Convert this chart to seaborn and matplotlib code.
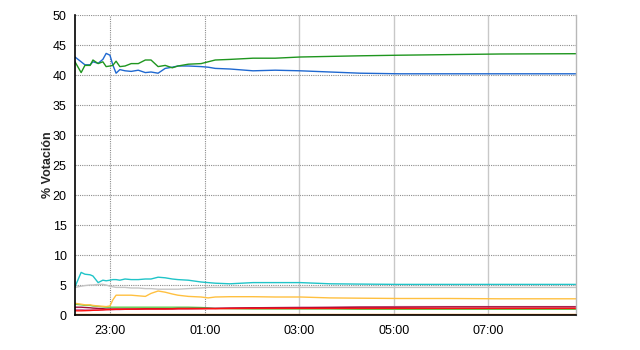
import matplotlib
matplotlib.use("Agg")
import matplotlib.pyplot as plt
import seaborn as sns
import pandas as pd

# time in decimal hours (24+ = after midnight)
horas = [22.25, 22.38, 22.46, 22.57, 22.63, 22.74, 22.84, 22.91, 22.99, 23.05,
         23.12, 23.20, 23.31, 23.44, 23.59, 23.74, 23.86, 24.01, 24.16, 24.31,
         24.43, 24.65, 24.92, 25.07, 25.22, 25.53, 26.02, 26.49, 27.02, 27.65,
         28.29, 29.13, 30.19, 31.25, 32.86]

azul = [43.0, 42.2, 41.7, 41.7, 42.2, 41.95, 42.6, 43.6, 43.3, 41.7,
        40.3, 40.9, 40.7, 40.6, 40.8, 40.4, 40.5, 40.3, 41.1, 41.3,
        41.5, 41.5, 41.4, 41.3, 41.1, 41.0, 40.7, 40.8, 40.7, 40.5,
        40.3, 40.2, 40.2, 40.2, 40.2]
verde = [42.2, 40.4, 41.6, 41.6, 42.5, 41.9, 42.2, 41.4, 41.5, 41.6,
         42.3, 41.4, 41.5, 41.9, 41.9, 42.5, 42.5, 41.4, 41.6, 41.2,
         41.5, 41.8, 41.9, 42.2, 42.5, 42.6, 42.8, 42.8, 43.0, 43.1,
         43.2, 43.3, 43.4, 43.5, 43.55]
cian = [4.7, 7.1, 6.8, 6.7, 6.5, 5.4, 5.8, 5.7, 5.8, 5.9,
        5.9, 5.8, 6.0, 5.9, 5.9, 6.0, 6.0, 6.3, 6.2, 6.0,
        5.9, 5.8, 5.5, 5.4, 5.3, 5.2, 5.4, 5.4, 5.4, 5.2,
        5.15, 5.1, 5.1, 5.1, 5.1]
gris = [4.6, 4.8, 4.9, 5.0, 5.0, 5.1, 5.1, 5.0, 4.8, 4.7,
        4.6, 4.6, 4.6, 4.5, 4.5, 4.4, 4.4, 4.3, 4.3, 4.3,
        4.3, 4.4, 4.5, 4.6, 4.6, 4.6, 4.6, 4.6, 4.6, 4.6,
        4.6, 4.6, 4.6, 4.6, 4.6]
naranja = [1.95, 1.8, 1.7, 1.7, 1.6, 1.5, 1.45, 1.4, 1.5, 2.5,
           3.3, 3.3, 3.3, 3.3, 3.2, 3.1, 3.6, 4.0, 3.8, 3.5,
           3.3, 3.1, 3.0, 2.85, 3.0, 3.05, 3.05, 3.0, 3.0, 2.85,
           2.8, 2.75, 2.75, 2.7, 2.7]
verde_claro = [1.8, 1.7, 1.6, 1.6, 1.5, 1.45, 1.35, 1.3, 1.3, 1.3,
               1.3, 1.3, 1.3, 1.3, 1.3, 1.3, 1.3, 1.3, 1.3, 1.3,
               1.3, 1.3, 1.25, 1.2, 1.1, 1.05, 1.0, 1.0, 1.0, 1.0,
               0.95, 0.95, 0.95, 0.95, 0.95]
granate = [1.3, 1.3, 1.25, 1.2, 1.15, 1.1, 1.05, 1.0, 1.0, 1.0,
           1.0, 1.0, 1.0, 1.0, 1.0, 1.05, 1.05, 1.05, 1.05, 1.05,
           1.1, 1.1, 1.1, 1.1, 1.1, 1.15, 1.2, 1.2, 1.2, 1.25,
           1.3, 1.3, 1.35, 1.35, 1.35]
rosa = [0.9, 0.9, 0.85, 0.85, 0.85, 0.85, 0.85, 0.9, 0.9, 0.9,
        0.9, 0.9, 0.95, 0.95, 0.95, 1.0, 1.0, 1.0, 1.0, 1.0,
        1.0, 1.0, 1.05, 1.1, 1.1, 1.15, 1.2, 1.25, 1.3, 1.3,
        1.35, 1.4, 1.4, 1.4, 1.4]
rojo = [0.7, 0.7, 0.72, 0.75, 0.78, 0.8, 0.85, 0.88, 0.9, 0.92,
        0.95, 0.95, 0.95, 0.97, 1.0, 1.0, 1.0, 1.0, 1.0, 1.02,
        1.05, 1.05, 1.05, 1.05, 1.05, 1.08, 1.1, 1.1, 1.1, 1.1,
        1.1, 1.1, 1.1, 1.1, 1.1]
naranja_osc = [0.1] * len(horas)

series = {
    "naranja_osc": naranja_osc,
    "gris": gris,
    "verde_claro": verde_claro,
    "rosa": rosa,
    "granate": granate,
    "rojo": rojo,
    "naranja": naranja,
    "cian": cian,
    "azul": azul,
    "verde": verde,
}
colores = {
    "naranja_osc": "#ff9020",
    "gris": "#c4c4c4",
    "verde_claro": "#60cc50",
    "rosa": "#d070a0",
    "granate": "#a0103a",
    "rojo": "#ff1010",
    "naranja": "#ffc040",
    "cian": "#20c4c8",
    "azul": "#1f68d0",
    "verde": "#1f961f",
}

rows = []
for name, vals in series.items():
    for t, v in zip(horas, vals):
        rows.append({"hora": t, "valor": v, "serie": name})
df = pd.DataFrame(rows)

x_ticks = [23, 25, 27, 29, 31]
x_labels = ["23:00", "01:00", "03:00", "05:00", "07:00"]
y_ticks = list(range(0, 55, 5))

sns.set_style("white")
plt.rcParams["font.family"] = ["Liberation Sans", "DejaVu Sans"]

fig = plt.figure(figsize=(6.4, 3.5), dpi=100)
ax = fig.add_axes([75 / 640, 35 / 350, 501 / 640, 300 / 350])

xmin, xmax = 22.25, 32.86
# grid
for y in y_ticks[1:]:
    ax.axhline(y, color="#8c8c8c", lw=0.8, ls=(0, (1, 1)), zorder=0)
for xt in x_ticks:
    if xt < 26:
        ax.axvline(xt, color="#8c8c8c", lw=0.8, ls=(0, (1, 1)), zorder=0)
    else:
        ax.axvline(xt, color="#c8c8c8", lw=1.0, zorder=0)

sns.lineplot(data=df, x="hora", y="valor", hue="serie", palette=colores,
             hue_order=list(series.keys()), lw=1.0, legend=False, ax=ax)

ax.set_xlim(xmin, xmax)
ax.set_ylim(0, 50)
ax.set_xticks(x_ticks)
ax.set_xticklabels(x_labels)
ax.set_yticks(y_ticks)
ax.tick_params(axis="both", labelsize=9, colors="black", length=4, width=0.8, direction="out", pad=2)
ax.tick_params(axis="x", pad=3)
ax.set_xlabel("")
ax.set_ylabel("% Votación", fontsize=9, fontweight="bold", labelpad=-1)

for s in ["top"]:
    ax.spines[s].set_visible(False)
ax.spines["right"].set_color("#b8b8b8")
ax.spines["right"].set_linewidth(1.0)
ax.spines["left"].set_color("black")
ax.spines["bottom"].set_color("black")
ax.spines["left"].set_linewidth(1.2)
ax.spines["bottom"].set_linewidth(1.2)

fig.savefig("out.png", dpi=100, facecolor="white")
